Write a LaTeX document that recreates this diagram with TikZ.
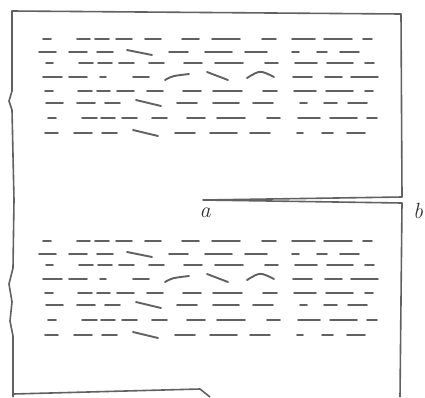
\documentclass[tikz,border=0pt]{standalone}
\newcommand\rowdashes[2]{\foreach \p/\q in {#2} {\draw[txt] (\p,#1) -- (\q,#1);}}
\newcommand\mydashes{%
  \rowdashes{39}{43/51,77/90,95/109,116/132,145/161,182/199,212/240,262/276,292/315,324/352,363/372}
  \rowdashes{52}{39/56,69/87,97/113,169/188,205/232,245/267,292/299,317/327,340/359}
  \draw[txt] (127,50) -- (152,55);
  \rowdashes{63}{46/53,79/93,98/112,119/134,149/164,184/202,215/243,265/278,295/317,327/353,365/374}
  \rowdashes{77}{43/62,69/87,100/106,133/149,293/312,325/342,351/378}
  \draw[txt] (165,80) .. controls (172,76) .. (189,74);
  \draw[txt] (207,72) -- (228,80);
  \draw[txt] (247,78) .. controls (260,70) .. (274,77);
  \rowdashes{91}{45/53,78/92,97/110,117/134,147/163,183/201,213/242,263/277,294/316,326/353,365/373}
  \rowdashes{103}{46/63,77/95,105/120,177/197,213/239,253/273,300/307,324/337,348/367}
  \draw[txt] (136,100) -- (161,106);
  \rowdashes{118}{48/56,82/97,101/115,122/137,152/167,187/205,217/245,267/280,298/320,330/357,367/377}
  \rowdashes{133}{45/58,74/92,102/117,175/195,210/237,250/270,297/303,322/333,347/365}
  \draw[txt] (133,130) -- (158,136);
}
\begin{document}
\begin{tikzpicture}[x=1pt,y=-1pt,
  outline/.style={draw=black!62,line width=1.6pt,line join=round},
  txt/.style={draw=black!62,line width=1.9pt,line cap=round},
  lbl/.style={font=\fontsize{22}{22}\selectfont\itshape,text=black!80,inner sep=0pt}]
\useasboundingbox (0,0) rectangle (425,397);
\fill[white] (0,0) rectangle (425,397);
% torn page outline
\coordinate (tl) at (12,11);
\coordinate (tr) at (401,14);
\coordinate (rt) at (402,197);
\coordinate (tip) at (203,200);
\coordinate (rb) at (402,203);
\coordinate (br) at (400,397);
\draw[outline] (13,397) -- (13,336) -- (10,321) -- (12,302) -- (9,284) -- (13,268) -- (14,200)
  -- (12,110) -- (9,101) -- (12,91) -- (tl) -- (tr) -- (rt) -- (tip) -- (rb) -- (br);
\draw[outline] (13,394) -- (200,389) -- (210,397);
% text lines
\begin{scope}\mydashes\end{scope}
\begin{scope}[shift={(0,202)}]\mydashes\end{scope}
% labels
\node[lbl] (la) at (205,213) {a};
\node[lbl] (lb) at (418,211) {b};
\end{tikzpicture}
\end{document}
